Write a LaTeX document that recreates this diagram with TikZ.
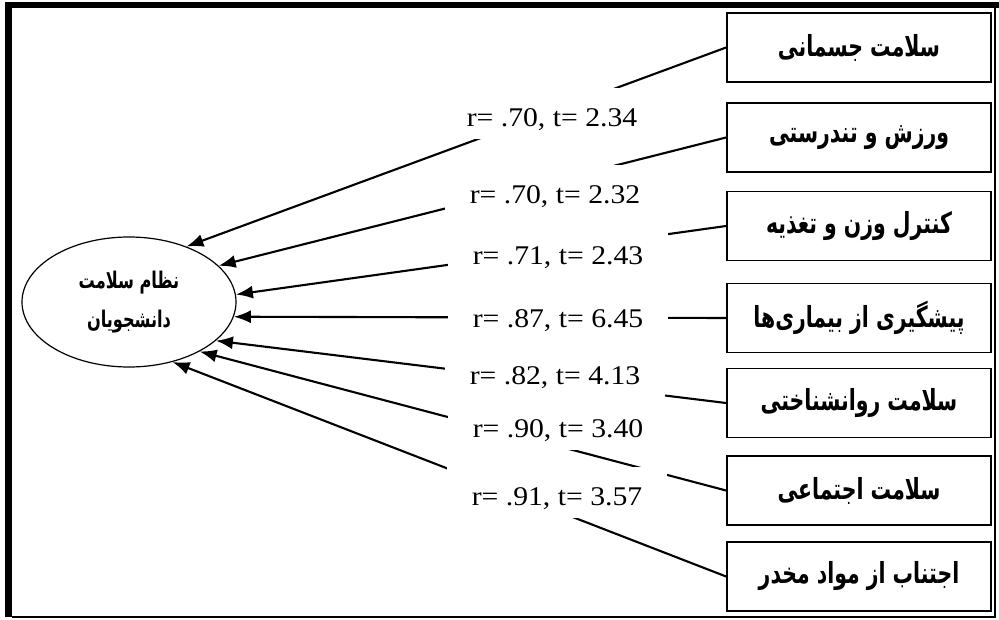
\documentclass[tikz,border=0pt]{standalone}
\usepackage{fontspec}
\setmainfont{Liberation Serif}
\newfontfamily\fa[Script=Arabic]{DejaVu Sans}
\TeXXeTstate=1
\usetikzlibrary{arrows.meta,shapes.geometric}
\newcommand{\faT}[1]{\scalebox{0.95}[1.35]{\beginR #1\endR}}
\newcommand{\numT}[1]{\scalebox{1.1}[1]{#1}}
\begin{document}
\begin{tikzpicture}[x=1pt,y=-1pt,
  box/.style={draw, line width=1.8pt, minimum width=264pt, minimum height=69pt, inner sep=0pt,
    font=\fa\bfseries\fontsize{21.5}{25}\selectfont},
  rel/.style={line width=2.1pt, -{Latex[length=17pt,width=13pt]}},
  lab/.style={fill=white, inner xsep=0pt, inner ysep=0pt, minimum width=220pt,
    text height=38.5pt, text depth=12.5pt, anchor=base, font=\fontsize{27}{30}\selectfont}]
\useasboundingbox (0,0) rectangle (999,620);
% frame
\fill (5,2) rectangle (999,8);
\fill (5,2) rectangle (12,617);
\draw[line width=1.5pt] (12,617) -- (995,617) -- (995,8);
% ellipse
\node[draw, ellipse, line width=1.2pt, minimum width=214pt, minimum height=130pt, inner sep=0pt,
  align=center, font=\fa\bfseries\fontsize{17}{39}\selectfont] (ell) at (129,302)
  {\faT{نظام سلامت}\\ \faT{دانشجویان}};
% boxes
\node[box] (b1) at (859,47.5) {\faT{سلامت جسمانی}};
\node[box] (b2) at (859,137.5) {\faT{ورزش و تندرستی}};
\node[box] (b3) at (859,226) {\faT{کنترل وزن و تغذیه}};
\node[box] (b4) at (859,318) {\faT{پیشگیری از بیماری‌ها}};
\node[box] (b5) at (859,403) {\faT{سلامت روانشناختی}};
\node[box] (b6) at (859,490.5) {\faT{سلامت اجتماعی}};
\node[box] (b7) at (859,576.5) {\faT{اجتناب از مواد مخدر}};
% connectors
\draw[rel] (b1.west) -- (ell.44.5);
\draw[rel] (b2.west) -- (ell.22.7);
\draw[rel] (b3.west) -- (ell.4.8);
\draw[rel] (b4.west) -- (ell.-8.9);
\draw[rel] (b5.west) -- (ell.-24);
\draw[rel] (b6.west) -- (ell.-35.3);
\draw[rel] (b7.west) -- (ell.-54.5);
% labels
\node[lab] (l1) at (552,126.5) {\numT{r= .70, t= 2.34}};
\node[lab] (l2) at (555,203.5) {\numT{r= .70, t= 2.32}};
\node[lab] (l3) at (558,264.5) {\numT{r= .71, t= 2.43}};
\node[lab] (l4) at (558,327.5) {\numT{r= .87, t= 6.45}};
\node[lab] (l5) at (555,384.5) {\numT{r= .82, t= 4.13}};
\node[lab] (l6) at (558,437.5) {\numT{r= .90, t= 3.40}};
\node[lab] (l7) at (557,505.5) {\numT{r= .91, t= 3.57}};
\end{tikzpicture}
\end{document}
